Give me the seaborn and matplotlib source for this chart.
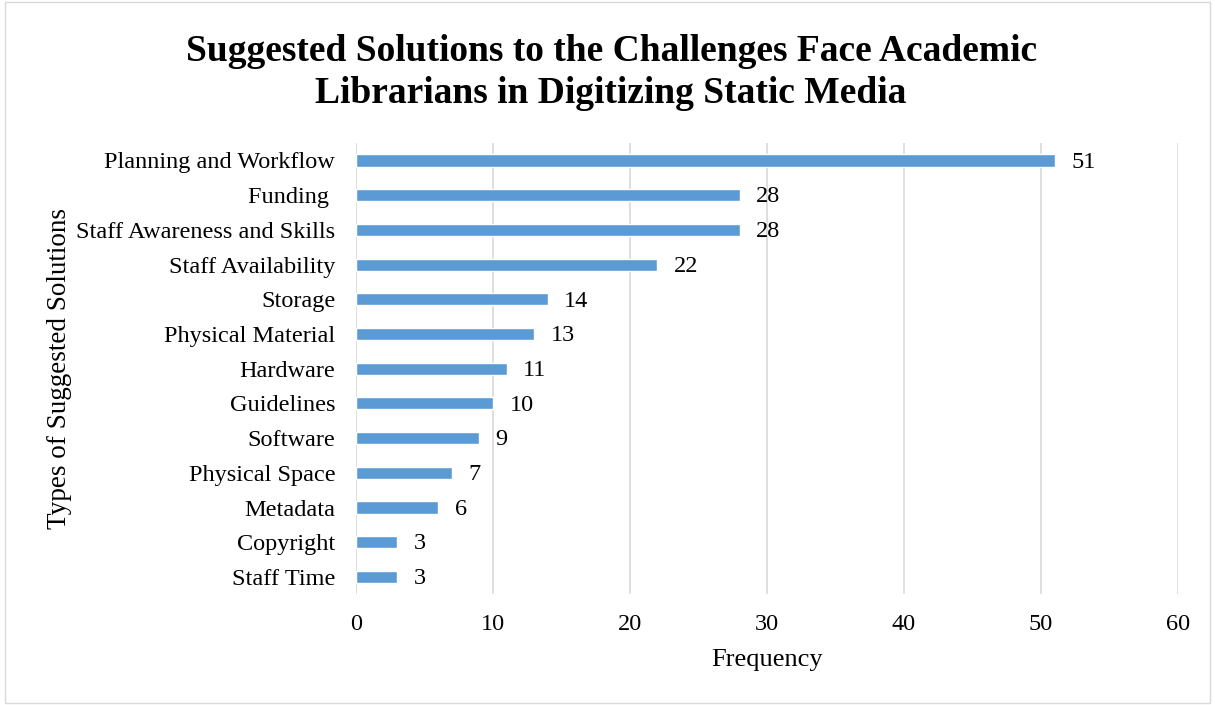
import numpy as np
import pandas as pd
import matplotlib.pyplot as plt
import seaborn as sns
from matplotlib.patches import Rectangle

categories = ['Planning and Workflow', 'Funding ', 'Staff Awareness and Skills', 'Staff Availability',
              'Storage', 'Physical Material', 'Hardware', 'Guidelines', 'Software',
              'Physical Space', 'Metadata', 'Copyright', 'Staff Time']
frequency = [51, 28, 28, 22, 14, 13, 11, 10, 9, 7, 6, 3, 3]

df = pd.DataFrame({'solution': categories, 'freq': frequency})

sns.set_style("white")
plt.rcParams['font.family'] = ['Liberation Serif', 'DejaVu Serif']
plt.rcParams['text.color'] = 'black'
plt.rcParams['axes.labelcolor'] = 'black'

fig = plt.figure(figsize=(12.15, 7.05), dpi=100)
ax = fig.add_axes([0.293, 0.157, 0.6765, 0.640])

sns.barplot(data=df, x='freq', y='solution', color='#5B9BD5', width=0.35, ax=ax, saturation=1)

# value labels at the bar ends
for i, v in enumerate(frequency):
    ax.text(v + 1.2, i + 0.05, str(v), va='center', ha='left', fontsize=17.5, color='black')

ax.set_xlim(0, 60)
ax.set_xticks(range(0, 61, 10))
ax.xaxis.grid(True, color='#D9D9D9', linewidth=1.2)
ax.set_axisbelow(True)
for s in ax.spines.values():
    s.set_visible(False)
ax.tick_params(axis='both', length=0, labelsize=17.5, colors='black')
ax.tick_params(axis='x', pad=14)
ax.tick_params(axis='y', pad=15)
ax.set_xlabel('Frequency', fontsize=19, labelpad=10)
ax.set_ylabel('Types of Suggested Solutions', fontsize=19.5, labelpad=3)

fig.suptitle('Suggested Solutions to the Challenges Face Academic\nLibrarians in Digitizing Static Media',
             x=0.503, y=0.952, fontsize=27, fontweight='bold', linespacing=1.28, color='black')

fig.patches.append(Rectangle((0.004, 0.003), 0.992, 0.994, transform=fig.transFigure,
                             fill=False, edgecolor='#D9D9D9', linewidth=1))

fig.savefig('out.png', dpi=100)
